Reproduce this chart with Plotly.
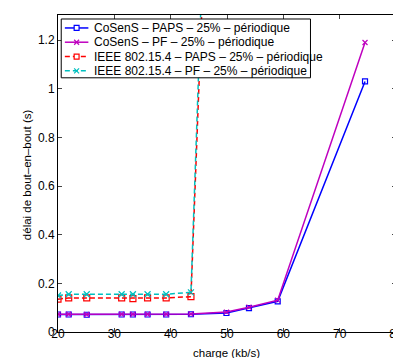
import plotly.graph_objects as go

x_vals = [20, 21.9, 25.1, 31.3, 33.3, 35.9, 39.2, 43.6, 49.9, 53.9, 59.0, 74.5]
cosens_paps = [0.072, 0.072, 0.071, 0.072, 0.072, 0.072, 0.072, 0.073, 0.078, 0.098, 0.126, 1.03]
cosens_pf = [0.073, 0.073, 0.072, 0.073, 0.073, 0.073, 0.073, 0.074, 0.082, 0.102, 0.131, 1.19]

x_ieee = [20, 21.9, 25.1, 31.3, 33.3, 35.9, 39.2, 43.6, 49.9]
ieee_paps = [0.135, 0.14, 0.14, 0.14, 0.137, 0.14, 0.14, 0.145, 4.0]
ieee_pf = [0.15, 0.155, 0.155, 0.155, 0.155, 0.155, 0.155, 0.163, 4.35]

names = [
    "CoSenS – PAPS – 25% – périodique",
    "CoSenS – PF – 25% – périodique",
    "IEEE 802.15.4 – PAPS – 25% – périodique",
    "IEEE 802.15.4 – PF – 25% – périodique",
]
x_title = "charge (kb/s)"
y_title = "délai de bout–en–bout (s)"
colors = ["#0000FF", "#BF00BF", "#FF0000", "#00BFBF"]
symbols = ["square", "x", "square", "x"]
dashes = ["solid", "solid", "5px,3px", "5px,3px"]
x_ticks = [20, 30, 40, 50, 60, 70, 80]
y_ticks = [0, 0.2, 0.4, 0.6, 0.8, 1, 1.2]
y_labels = ["0", "0.2", "0.4", "0.6", "0.8", "1", "1.2"]

W, H = 401, 358
ML, MR, MT, MB = 50, 6, 6, 34
PW, PH = W - ML - MR, H - MT - MB

def px_x(p):
    return (p - ML) / PW

def px_y(p):
    return (H - MB - p) / PH

fig = go.Figure()
series = [(x_vals, cosens_paps), (x_vals, cosens_pf), (x_ieee, ieee_paps), (x_ieee, ieee_pf)]
for i, (xs, ys) in enumerate(series):
    sym = "square-open" if symbols[i] == "square" else "x-thin-open"
    fig.add_trace(go.Scatter(
        x=xs, y=ys, name=names[i], mode="lines+markers", showlegend=False,
        line=dict(color=colors[i], width=1.5, dash=dashes[i]),
        marker=dict(symbol=sym, size=5 if i < 2 else 6, color=colors[i],
                    line=dict(width=1.2, color=colors[i]))))

# custom legend (MATLAB-like, compact rows)
shapes = []
annotations = []
box = dict(x0=53.3, x1=307.7, y0=10, y1=69)
shapes.append(dict(type="rect", xref="paper", yref="paper", layer="above",
                   x0=px_x(box["x0"]), x1=px_x(box["x1"]),
                   y0=px_y(box["y1"]), y1=px_y(box["y0"]),
                   fillcolor="white", line=dict(color="black", width=1)))
row_y = [19, 33.3, 47.7, 62]
for i, ry in enumerate(row_y):
    shapes.append(dict(type="line", xref="paper", yref="paper", layer="above",
                       x0=px_x(57), x1=px_x(81), y0=px_y(ry), y1=px_y(ry),
                       line=dict(color=colors[i], width=1.5, dash=dashes[i])))
    mx = 69
    if symbols[i] == "square":
        shapes.append(dict(type="rect", xref="paper", yref="paper", layer="above",
                           x0=px_x(mx - 2.5), x1=px_x(mx + 2.5),
                           y0=px_y(ry + 2.5), y1=px_y(ry - 2.5),
                           fillcolor="white", line=dict(color=colors[i], width=1.2)))
    else:
        for d in (1, -1):
            shapes.append(dict(type="line", xref="paper", yref="paper", layer="above",
                               x0=px_x(mx - 2.5), x1=px_x(mx + 2.5),
                               y0=px_y(ry - 2.5 * d), y1=px_y(ry + 2.5 * d),
                               line=dict(color=colors[i], width=1.2)))
    annotations.append(dict(text=names[i], xref="paper", yref="paper",
                            x=px_x(84.3), y=px_y(ry), xanchor="left", yanchor="middle",
                            showarrow=False, font=dict(size=12, color="black")))

# axis titles placed like the MATLAB figure
annotations.append(dict(text=x_title, xref="paper", yref="paper",
                        x=px_x(222), y=px_y(345), xanchor="center", yanchor="middle",
                        showarrow=False, font=dict(size=11.5, color="black")))
annotations.append(dict(text=y_title, xref="paper", yref="paper", textangle=-90,
                        x=px_x(19), y=px_y(166), xanchor="center", yanchor="middle",
                        showarrow=False, font=dict(size=11.5, color="black")))

font_family = "Liberation Sans, Arial, Helvetica, sans-serif"
fig.update_layout(
    width=W, height=H,
    margin=dict(l=ML, r=MR, t=MT, b=MB),
    paper_bgcolor="white", plot_bgcolor="white",
    font=dict(family=font_family, size=12, color="black"),
    showlegend=False,
    shapes=shapes, annotations=annotations,
    xaxis=dict(range=[20, 80], tickvals=x_ticks, ticks="inside", ticklen=4,
               showline=True, linecolor="black", linewidth=1, mirror="ticks",
               showgrid=False, zeroline=False, ticklabeloverflow="allow",
               ticklabelstandoff=-9, tickfont=dict(size=12)),
    yaxis=dict(range=[0, 1.303], tickvals=y_ticks, ticktext=y_labels, ticks="inside", ticklen=4,
               showline=True, linecolor="black", linewidth=1, mirror="ticks",
               showgrid=False, zeroline=False, tickfont=dict(size=12)),
)
fig.write_html("out.html")
